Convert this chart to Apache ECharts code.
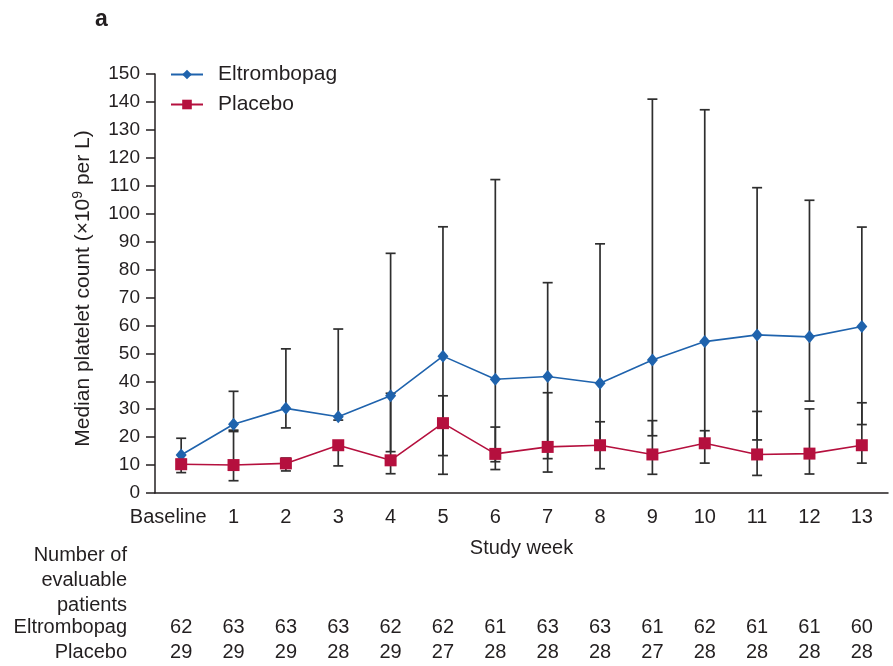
<!DOCTYPE html>
<html>
<head>
<meta charset="utf-8">
<script src="https://cdn.jsdelivr.net/npm/echarts@6/dist/echarts.min.js"></script>
<style>html,body{margin:0;padding:0;background:#fff}#c{width:893px;height:666px}</style>
</head>
<body>
<div id="c"></div>
<script>
const categories = ['Baseline','1','2','3','4','5','6','7','8','9','10','11','12','13'];
const eltromMedian = [13.6, 24.6, 30.3, 27.3, 34.8, 49, 40.7, 41.7, 39.3, 47.6, 54.2, 56.6, 55.9, 59.6];
const eltromLower  = [11, 22.5, 23.3, 26.1, 14.8, 13.4, 11.2, 12.3, 17.5, 20.5, 18, 19, 32.9, 24.5];
const eltromUpper  = [19.6, 36.4, 51.6, 58.7, 85.8, 95.3, 112.2, 75.3, 89.2, 141, 137.2, 109.3, 104.8, 95.2];
const placeboMedian = [10.3, 10, 10.6, 17.1, 11.7, 25, 14, 16.5, 17.1, 13.8, 17.8, 13.8, 14.1, 17.1];
const placeboLower  = [7.3, 4.4, 7.9, 9.7, 6.9, 6.7, 8.4, 7.5, 8.7, 6.7, 10.7, 6.3, 6.8, 10.7];
const placeboUpper  = [12, 22, 12.5, 18.5, 35.7, 34.8, 23.6, 35.9, 25.5, 25.9, 22.3, 29.2, 30.1, 32.3];
const eltromN  = ['62','63','63','63','62','62','61','63','63','61','62','61','61','60'];
const placeboN = ['29','29','29','28','29','27','28','28','28','27','28','28','28','28'];

const FONT = 'Liberation Sans, Arial, Helvetica, sans-serif';
const TXT = '#231f20';
const FS = 20;

function errRender(params, api) {
  const x = api.value(0);
  const lo = api.coord([x, api.value(1)]);
  const hi = api.coord([x, api.value(2)]);
  const hw = 5;
  const st = {stroke: '#2e2e2e', lineWidth: 1.7};
  return {type: 'group', children: [
    {type: 'line', shape: {x1: lo[0], y1: lo[1], x2: hi[0], y2: hi[1]}, style: st},
    {type: 'line', shape: {x1: lo[0]-hw, y1: lo[1], x2: lo[0]+hw, y2: lo[1]}, style: st},
    {type: 'line', shape: {x1: hi[0]-hw, y1: hi[1], x2: hi[0]+hw, y2: hi[1]}, style: st}
  ]};
}

const countAxis = (data, name, offset) => ({
  type: 'category', data: data, position: 'bottom', offset: offset,
  axisLine: {show: false}, axisTick: {show: false}, splitLine: {show: false},
  axisLabel: {interval: 0, margin: 0, fontSize: FS, color: TXT, fontFamily: FONT, verticalAlign: 'top'},
  name: name, nameLocation: 'start', nameGap: 28,
  nameTextStyle: {fontSize: FS, color: TXT, fontFamily: FONT, verticalAlign: 'top', align: 'right'}
});

const chart = echarts.init(document.getElementById('c'), null, {renderer: 'canvas'});
chart.setOption({
  animation: false,
  backgroundColor: '#fff',
  title: {text: 'a', left: 90, top: 3, textStyle: {fontSize: 23, fontWeight: 'bold', color: TXT, fontFamily: FONT}},
  grid: {left: 155, right: 5, top: 74, bottom: 173},
  legend: {
    data: ['Eltrombopag', 'Placebo'], orient: 'vertical', left: 165, top: 59,
    itemWidth: 32, itemHeight: 12, itemGap: 9,
    textStyle: {fontSize: 21, color: TXT, fontFamily: FONT, padding: [0, 0, 0, 10]}
  },
  xAxis: [
    {
      type: 'category', data: categories, boundaryGap: true,
      axisLine: {lineStyle: {color: '#231f20', width: 1.5}},
      axisTick: {length: 10, lineStyle: {color: '#231f20', width: 1.5}},
      axisLabel: {
        interval: 0, margin: 14, fontSize: FS, color: TXT, fontFamily: FONT,
        formatter: (v, i) => i === 0 ? '{b|' + v + '}' : v,
        rich: {b: {fontSize: FS, color: TXT, fontFamily: FONT, padding: [0, 26, 0, 0]}}
      },
      name: 'Study week', nameLocation: 'middle', nameGap: 45,
      nameTextStyle: {fontSize: FS, color: TXT, fontFamily: FONT}
    },
    countAxis(eltromN, 'Eltrombopag', 124),
    countAxis(placeboN, 'Placebo', 149)
  ],
  yAxis: {
    type: 'value', min: 0, max: 150, interval: 10,
    axisLine: {show: true, lineStyle: {color: '#231f20', width: 1.5}},
    axisTick: {show: true, length: 9, lineStyle: {color: '#231f20', width: 1.5}},
    splitLine: {show: false},
    axisLabel: {margin: 15, fontSize: 19, color: TXT, fontFamily: FONT},
    name: 'Median platelet count (\u00d710{sup|9} per L)', nameLocation: 'middle', nameGap: 60,
    nameTextStyle: {
      fontSize: 21, color: TXT, fontFamily: FONT, padding: [0, 10, 0, 0],
      rich: {sup: {fontSize: 14, color: TXT, fontFamily: FONT, padding: [0, 0, 10, 0]}}
    }
  },
  graphic: [
    {type: 'text', right: 893 - 127, top: 543,
     style: {text: 'Number of\nevaluable\npatients', font: FS + 'px ' + FONT, fill: TXT, textAlign: 'right', lineHeight: 25}}
  ],
  series: [
    {type: 'custom', name: 'errE', renderItem: errRender, z: 1,
     data: categories.map((c, i) => [i, eltromLower[i], eltromUpper[i]]), encode: {x: 0, y: [1, 2]}},
    {type: 'custom', name: 'errP', renderItem: errRender, z: 1,
     data: categories.map((c, i) => [i, placeboLower[i], placeboUpper[i]]), encode: {x: 0, y: [1, 2]}},
    {type: 'line', name: 'Eltrombopag', data: eltromMedian, z: 3,
     symbol: 'diamond', symbolSize: [11, 13], showAllSymbol: true,
     lineStyle: {color: '#1f63ad', width: 1.6}, itemStyle: {color: '#1f63ad'}},
    {type: 'line', name: 'Placebo', data: placeboMedian, z: 3,
     symbol: 'rect', symbolSize: 12, showAllSymbol: true,
     lineStyle: {color: '#b5103e', width: 1.6}, itemStyle: {color: '#b5103e'}}
  ]
});
</script>
</body>
</html>
